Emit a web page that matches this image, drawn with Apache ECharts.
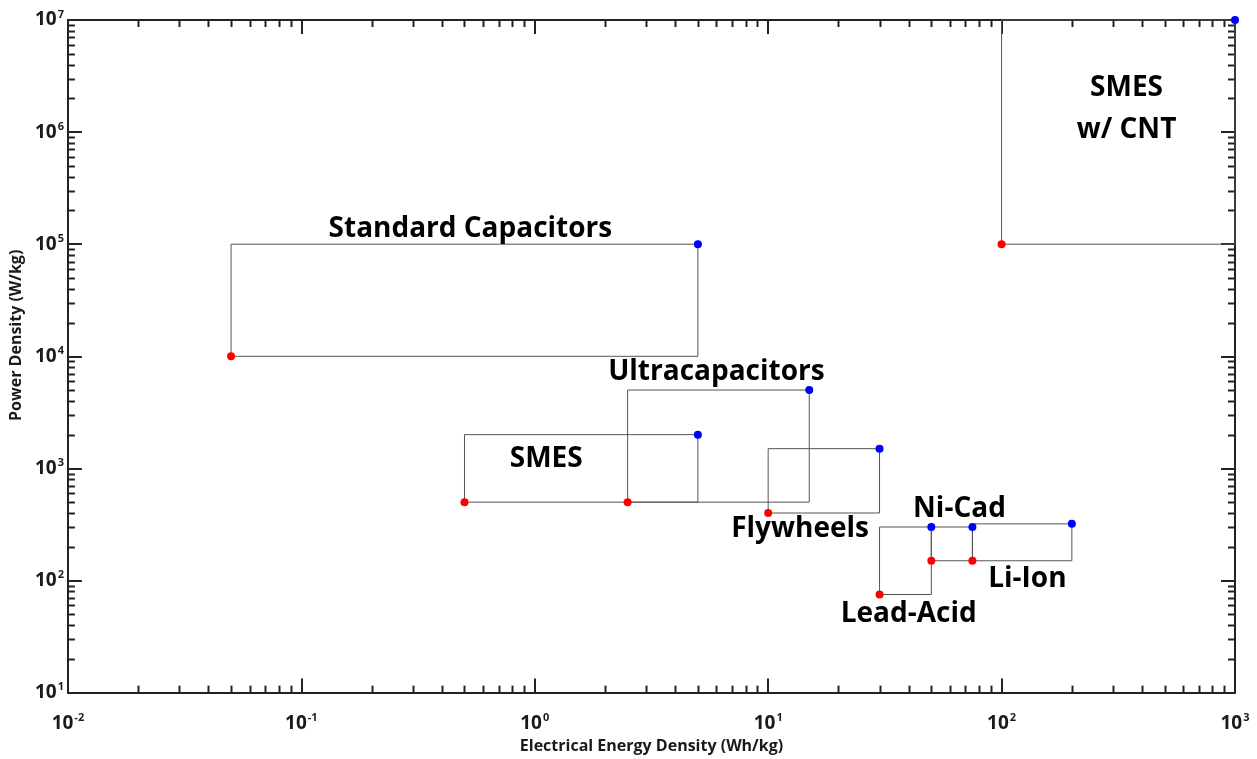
<!DOCTYPE html>
<html>
<head>
<meta charset="utf-8">
<title>Power vs Energy Density</title>
<script src="https://cdn.jsdelivr.net/npm/echarts@6/dist/echarts.min.js"></script>
<style>
  html, body { margin: 0; padding: 0; background: #ffffff; }
  #chart { width: 1257px; height: 759px; }
</style>
</head>
<body>
<div id="chart"></div>
<script>
// Storage technologies: energy range (Wh/kg) and power range (W/kg)
const techNames = ['Standard Capacitors', 'SMES', 'Ultracapacitors', 'Flywheels',
                   'Lead-Acid', 'Ni-Cad', 'Li-Ion', 'SMES w/ CNT'];
const energyMin = [0.05, 0.5, 2.5, 10, 30, 50, 75, 100];
const energyMax = [5, 5, 15, 30, 50, 75, 200, 1000];
const powerMin  = [1e4, 500, 500, 400, 75, 150, 150, 1e5];
const powerMax  = [1e5, 2000, 5000, 1500, 300, 300, 320, 1e7];

// Annotation text and where it sits, in data units [energy, power]
const labelTexts = ['Standard Capacitors', 'Ultracapacitors', 'SMES', 'Flywheels',
                    'Lead-Acid', 'Ni-Cad', 'Li-Ion', 'SMES\nw/ CNT'];
const labelAt = [[0.53, 1.36e5], [6.0, 7300], [1.12, 1200], [13.7, 287],
                 [40, 50], [66, 430], [129, 103], [343, 1.6e6]];

const xRange = [0.01, 1000];
const yRange = [10, 1e7];

const FONT = '"Open Sans", Lato, sans-serif';
const AXIS_COLOR = '#222';

function powTen(v) {
  const e = Math.round(Math.log10(v));
  return '{b|10}{s|' + e + '}';
}
const richPow = {
  b: { fontFamily: FONT, fontWeight: 'bold', fontSize: 19, color: '#1a1a1a', lineHeight: 22 },
  s: { fontFamily: FONT, fontWeight: 'bold', fontSize: 11, color: '#1a1a1a', lineHeight: 22, verticalAlign: 'top', padding: [0, 0, 8, 1] }
};

// minor tick values at 2..9 of every decade
function minorValues(lo, hi) {
  const out = [];
  for (let e = Math.round(Math.log10(lo)); e < Math.round(Math.log10(hi)); e++) {
    for (let m = 2; m <= 9; m++) out.push(m * Math.pow(10, e));
  }
  return out;
}
const xMinor = minorValues(xRange[0], xRange[1]);
const yMinor = minorValues(yRange[0], yRange[1]);

function rectPath(i) {
  return [
    [energyMin[i], powerMin[i]],
    [energyMax[i], powerMin[i]],
    [energyMax[i], powerMax[i]],
    [energyMin[i], powerMax[i]],
    [energyMin[i], powerMin[i]]
  ];
}

const baseAxis = {
  type: 'log',
  logBase: 10,
  axisLine: { show: true, lineStyle: { color: AXIS_COLOR, width: 2 } },
  axisTick: { show: true, inside: true, length: 14, lineStyle: { color: AXIS_COLOR, width: 2 } },
  splitLine: { show: false },
  minorTick: { show: false }
};

const boxSeries = techNames.map((name, i) => ({
  name: name,
  type: 'line',
  data: rectPath(i),
  symbol: 'none',
  clip: false,
  lineStyle: { color: '#555555', width: 1 },
  z: 2
}));

const minorSeries = {
  type: 'custom',
  clip: false,
  silent: true,
  data: [0],
  renderItem: function (params, api) {
    const cs = params.coordSys;
    const children = [];
    const len = 7;
    const style = { stroke: AXIS_COLOR, lineWidth: 2 };
    xMinor.forEach(v => {
      const px = Math.round(api.coord([v, yRange[0]])[0]) + 0.5;
      children.push({ type: 'line', shape: { x1: px, y1: cs.y + cs.height, x2: px, y2: cs.y + cs.height - len }, style });
      children.push({ type: 'line', shape: { x1: px, y1: cs.y, x2: px, y2: cs.y + len }, style });
    });
    yMinor.forEach(v => {
      const py = Math.round(api.coord([xRange[0], v])[1]) + 0.5;
      children.push({ type: 'line', shape: { x1: cs.x, y1: py, x2: cs.x + len, y2: py }, style });
      children.push({ type: 'line', shape: { x1: cs.x + cs.width, y1: py, x2: cs.x + cs.width - len, y2: py }, style });
    });
    return { type: 'group', children };
  },
  z: 1
};

const option = {
  backgroundColor: '#ffffff',
  animation: false,
  grid: { left: 64, right: 22, top: 20, bottom: 64 },
  xAxis: [
    Object.assign({}, baseAxis, {
      position: 'bottom',
      min: xRange[0], max: xRange[1],
      name: 'Electrical Energy Density (Wh/kg)',
      nameLocation: 'middle',
      nameGap: 42,
      nameTextStyle: { fontFamily: FONT, fontWeight: 'bold', fontSize: 16, color: '#1a1a1a' },
      axisLabel: { margin: 20, formatter: powTen, rich: richPow }
    }),
    Object.assign({}, baseAxis, {
      position: 'top',
      min: xRange[0], max: xRange[1],
      axisLabel: { show: false }
    })
  ],
  yAxis: [
    Object.assign({}, baseAxis, {
      position: 'left',
      min: yRange[0], max: yRange[1],
      name: 'Power Density (W/kg)',
      nameLocation: 'middle',
      nameGap: 38,
      nameTextStyle: { fontFamily: FONT, fontWeight: 'bold', fontSize: 16, color: '#1a1a1a', padding: [0, 0, 0, 42] },
      axisLabel: { margin: 4, formatter: powTen, rich: richPow }
    }),
    Object.assign({}, baseAxis, {
      position: 'right',
      min: yRange[0], max: yRange[1],
      axisLabel: { show: false }
    })
  ],
  series: boxSeries.concat([
    minorSeries,
    {
      name: 'min',
      type: 'scatter',
      clip: false,
      symbolSize: 8,
      itemStyle: { color: '#ff0000', opacity: 1 },
      data: techNames.map((n, i) => [energyMin[i], powerMin[i]]),
      z: 5
    },
    {
      name: 'max',
      type: 'scatter',
      clip: false,
      symbolSize: 8,
      itemStyle: { color: '#0000ff', opacity: 1 },
      data: techNames.map((n, i) => [energyMax[i], powerMax[i]]),
      z: 5
    },
    {
      name: 'labels',
      type: 'scatter',
      clip: false,
      silent: true,
      symbolSize: 0,
      itemStyle: { opacity: 1 },
      data: labelAt.map((p, i) => ({ value: p, name: labelTexts[i] })),
      label: {
        show: true,
        position: 'inside',
        formatter: p => p.name,
        fontFamily: FONT,
        fontWeight: 'bold',
        fontSize: 28,
        lineHeight: 42,
        color: '#000000',
        opacity: 1,
        align: 'center',
        verticalAlign: 'middle'
      },
      z: 6
    }
  ])
};

const chart = echarts.init(document.getElementById('chart'), null, { renderer: 'canvas' });
chart.setOption(option);
</script>
</body>
</html>
